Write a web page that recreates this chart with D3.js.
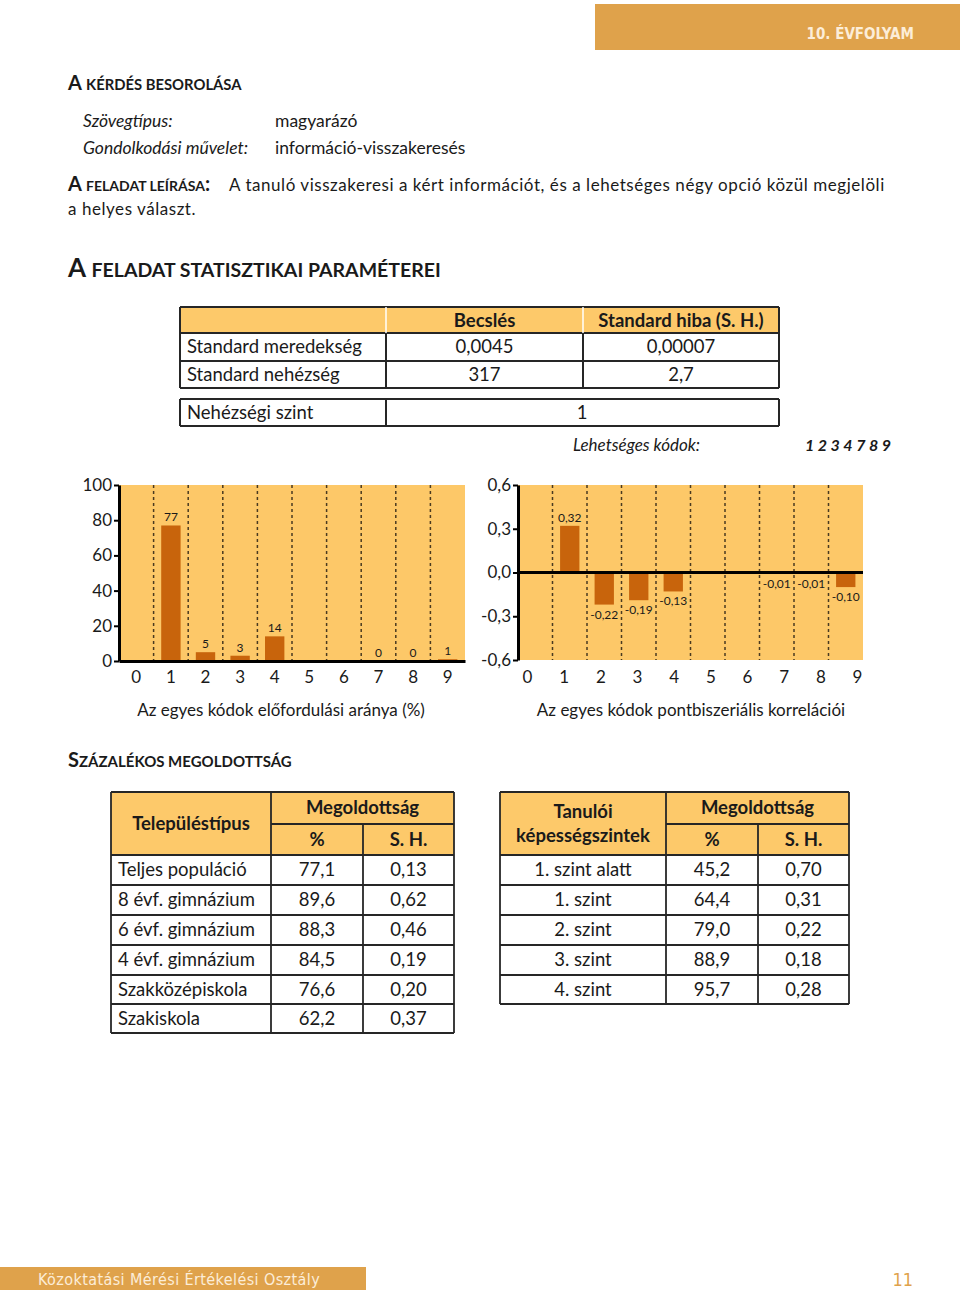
<!DOCTYPE html>
<html><head><meta charset="utf-8">
<script src="https://cdn.jsdelivr.net/npm/d3@7"></script>
<style>
html,body{margin:0;padding:0;background:#fff;}
svg{display:block;}
text{font-family:Lato,"Open Sans",sans-serif;fill:#1a1a1a;}
</style></head>
<body>
<svg id="page" width="960" height="1295"></svg>
<script>
// ---------- DATA ----------
const codes = [0,1,2,3,4,5,6,7,8,9];
const freqValues = [null,77,5,3,14,null,null,0,0,1];
const freqTicks = [0,20,40,60,80,100];
const corrValues = [null,0.32,-0.22,-0.19,-0.13,null,null,-0.01,-0.01,-0.10];
const corrTicks = [-0.6,-0.3,0,0.3,0.6];

const statHeader = ["", "Becslés", "Standard hiba (S. H.)"];
const statLabels = ["Standard meredekség", "Standard nehézség"];
const statEstimates = ["0,0045", "317"];
const statErrors = ["0,00007", "2,7"];
const levelLabel = "Nehézségi szint";
const levelValue = "1";
const possibleCodes = "1 2 3 4 7 8 9";

const settlementTypes = ["Teljes populáció","8 évf. gimnázium","6 évf. gimnázium","4 évf. gimnázium","Szakközépiskola","Szakiskola"];
const settlementPct = ["77,1","89,6","88,3","84,5","76,6","62,2"];
const settlementSE = ["0,13","0,62","0,46","0,19","0,20","0,37"];
const skillLevels = ["1. szint alatt","1. szint","2. szint","3. szint","4. szint"];
const skillPct = ["45,2","64,4","79,0","88,9","95,7"];
const skillSE = ["0,70","0,31","0,22","0,18","0,28"];

// ---------- STYLE ----------
const ORANGE_BAND = "#DFA24B";
const CHART_BG = "#FDC868";
const BAR = "#C8640C";
const HEAD_FILL = "#FDC96A";
const LINE = "#262626";

const svg = d3.select("#page");

function txt(x, y, s, opts = {}) {
  const t = svg.append("text").attr("x", x).attr("y", y).text(s)
    .style("font-size", (opts.size || 17) + "px");
  if (opts.anchor) t.attr("text-anchor", opts.anchor);
  if (opts.weight) t.style("font-weight", opts.weight);
  if (opts.italic) t.style("font-style", "italic");
  if (opts.fill) t.style("fill", opts.fill);
  if (opts.family) t.style("font-family", opts.family);
  if (opts.spacing) t.style("letter-spacing", opts.spacing + "px");
  return t;
}
function smallCaps(x, y, big, rest, bigSize, restSize, extra) {
  const t = svg.append("text").attr("x", x).attr("y", y).style("font-weight", "bold");
  t.append("tspan").text(big).style("font-size", bigSize + "px");
  t.append("tspan").text(rest).style("font-size", restSize + "px");
  if (extra) t.append("tspan").text(extra).style("font-size", bigSize + "px");
  return t;
}

// ---------- HEADER / FOOTER ----------
svg.append("rect").attr("x", 595).attr("y", 4).attr("width", 365).attr("height", 46).attr("fill", ORANGE_BAND);
txt(914, 39, "10. ÉVFOLYAM", {anchor: "end", size: 15, weight: "bold", fill: "#FCEDD8", family: "DejaVu Sans Condensed"});

svg.append("rect").attr("x", 0).attr("y", 1267).attr("width", 366).attr("height", 23).attr("fill", ORANGE_BAND);
txt(38, 1285, "Közoktatási Mérési Értékelési Osztály", {size: 16, fill: "#FCEDD8", family: "DejaVu Sans Condensed", spacing: 0.4});
txt(913, 1286, "11", {anchor: "end", size: 18, fill: ORANGE_BAND, family: "DejaVu Sans Condensed"});

// ---------- TEXT BLOCKS ----------
smallCaps(68, 90, "A ", "KÉRDÉS BESOROLÁSA", 20, 14.8);
txt(83, 127, "Szövegtípus:", {italic: true, size: 17.5});
txt(275, 127, "magyarázó", {size: 17.5});
txt(83, 154, "Gondolkodási művelet:", {italic: true, size: 17.5});
txt(275, 154, "információ-visszakeresés", {size: 17.5});

smallCaps(68, 191, "A ", "FELADAT LEÍRÁSA", 20, 14, ":");
txt(229, 191, "A tanuló visszakeresi a kért információt, és a lehetséges négy opció közül megjelöli", {size: 17, spacing: 0.55});
txt(68, 215, "a helyes választ.", {size: 17, spacing: 0.55});

smallCaps(68, 277, "A ", "FELADAT STATISZTIKAI PARAMÉTEREI", 26, 19.5);

// ---------- STAT TABLE ----------
function drawGrid(colEdges, rowEdges, headerRows, headFill, headerSepWhite) {
  const g = svg.append("g");
  if (headerRows > 0) {
    g.append("rect").attr("x", colEdges[0]).attr("y", rowEdges[0])
      .attr("width", colEdges[colEdges.length - 1] - colEdges[0])
      .attr("height", rowEdges[headerRows] - rowEdges[0]).attr("fill", headFill);
  }
  rowEdges.forEach(y => g.append("line").attr("x1", colEdges[0]).attr("x2", colEdges[colEdges.length - 1])
    .attr("y1", y).attr("y2", y).attr("stroke", LINE).attr("stroke-width", 2));
  colEdges.forEach((x, i) => {
    const inner = i > 0 && i < colEdges.length - 1;
    if (inner && headerSepWhite && headerRows > 0) {
      g.append("line").attr("x1", x).attr("x2", x).attr("y1", rowEdges[0]).attr("y2", rowEdges[headerRows])
        .attr("stroke", "#fff").attr("stroke-width", 1.5);
      g.append("line").attr("x1", x).attr("x2", x).attr("y1", rowEdges[headerRows]).attr("y2", rowEdges[rowEdges.length - 1])
        .attr("stroke", LINE).attr("stroke-width", 2);
    } else {
      g.append("line").attr("x1", x).attr("x2", x).attr("y1", rowEdges[0]).attr("y2", rowEdges[rowEdges.length - 1])
        .attr("stroke", LINE).attr("stroke-width", 2);
    }
  });
  return g;
}
const sCols = [180, 386, 583, 779];
const sRows = [307, 333, 361, 388];
drawGrid(sCols, sRows, 1, HEAD_FILL, true);
const mid = (a, b) => (a + b) / 2;
statHeader.forEach((h, i) => { if (h) txt(mid(sCols[i], sCols[i + 1]), 327, h, {anchor: "middle", weight: "bold", size: 18.5}); });
statLabels.forEach((l, r) => {
  const by = mid(sRows[r + 1], sRows[r + 2]) + 6;
  txt(187, by, l, {size: 18.5});
  txt(mid(sCols[1], sCols[2]), by, statEstimates[r], {anchor: "middle", size: 18.5});
  txt(mid(sCols[2], sCols[3]), by, statErrors[r], {anchor: "middle", size: 18.5});
});
drawGrid(sCols.filter((d, i) => i !== 2), [399, 426], 0, null, false);
txt(187, 419, levelLabel, {size: 18.5});
txt(582, 419, levelValue, {anchor: "middle", size: 18.5});

txt(573, 451, "Lehetséges kódok:", {italic: true, size: 17});
txt(891, 451, possibleCodes, {anchor: "end", italic: true, weight: "bold", size: 16});

// ---------- LEFT CHART (frequency) ----------
const fmtComma = d => (d < 0 ? "-" : "") + Math.abs(d).toFixed(2).replace(".", ",");
{
  const x = d3.scaleBand().domain(codes).range([119, 465]);
  const y = d3.scaleLinear().domain([0, 100]).range([661, 485]);
  const g = svg.append("g");
  g.append("rect").attr("x", x.range()[0]).attr("y", y(100)).attr("width", x.range()[1] - x.range()[0])
    .attr("height", y(0) - y(100)).attr("fill", CHART_BG);
  g.selectAll("line.sep").data(codes.slice(1)).join("line").attr("class", "sep")
    .attr("x1", d => x(d)).attr("x2", d => x(d)).attr("y1", y(100)).attr("y2", y(0))
    .attr("stroke", "#4a3a20").attr("stroke-width", 1.5).attr("stroke-dasharray", "3,3");
  const bw = x.bandwidth() * 0.56;
  const data = codes.map((c, i) => ({c, v: freqValues[i]})).filter(d => d.v !== null);
  g.selectAll("rect.bar").data(data).join("rect").attr("class", "bar")
    .attr("x", d => x(d.c) + (x.bandwidth() - bw) / 2).attr("width", bw)
    .attr("y", d => y(d.v)).attr("height", d => y(0) - y(d.v)).attr("fill", BAR);
  g.selectAll("text.val").data(data).join("text").attr("class", "val")
    .attr("x", d => x(d.c) + x.bandwidth() / 2).attr("y", d => y(d.v) - 4)
    .attr("text-anchor", "middle").style("font-size", "12px").text(d => d.v);
  const ya = g.append("g").attr("transform", `translate(${x.range()[0]},0)`)
    .call(d3.axisLeft(y).tickValues(freqTicks).tickSize(5).tickSizeOuter(0).tickPadding(2));
  ya.select(".domain").attr("stroke", "#000").attr("stroke-width", 3);
  ya.selectAll(".tick line").attr("stroke", "#000").attr("stroke-width", 2);
  ya.selectAll(".tick text").style("font-size", "17px").style("font-family", "Lato").attr("fill", "#1a1a1a");
  const xa = g.append("g").attr("transform", `translate(0,${y(0)})`)
    .call(d3.axisBottom(x).tickSize(0).tickSizeOuter(0).tickPadding(10));
  xa.select(".domain").attr("stroke", "#000").attr("stroke-width", 3);
  xa.selectAll(".tick text").style("font-size", "17px").style("font-family", "Lato").attr("fill", "#1a1a1a");
  txt(281, 716, "Az egyes kódok előfordulási aránya (%)", {anchor: "middle", size: 17});
}

// ---------- RIGHT CHART (correlation) ----------
{
  const x = d3.scaleBand().domain(codes).range([518, 863]);
  const xl = d3.scalePoint().domain(codes).range([527, 857]);
  const y = d3.scaleLinear().domain([-0.6, 0.6]).range([660, 485]);
  const g = svg.append("g");
  g.append("rect").attr("x", x.range()[0]).attr("y", y(0.6)).attr("width", x.range()[1] - x.range()[0])
    .attr("height", y(-0.6) - y(0.6)).attr("fill", CHART_BG);
  g.selectAll("line.sep").data(codes.slice(1)).join("line").attr("class", "sep")
    .attr("x1", d => x(d)).attr("x2", d => x(d)).attr("y1", y(0.6)).attr("y2", y(-0.6))
    .attr("stroke", "#4a3a20").attr("stroke-width", 1.5).attr("stroke-dasharray", "3,3");
  const bw = x.bandwidth() * 0.56;
  const data = codes.map((c, i) => ({c, v: corrValues[i]})).filter(d => d.v !== null);
  g.selectAll("rect.bar").data(data).join("rect").attr("class", "bar")
    .attr("x", d => x(d.c) + (x.bandwidth() - bw) / 2).attr("width", bw)
    .attr("y", d => y(Math.max(0, d.v))).attr("height", d => Math.abs(y(d.v) - y(0))).attr("fill", BAR);
  g.selectAll("text.val").data(data).join("text").attr("class", "val")
    .attr("x", d => x(d.c) + x.bandwidth() / 2)
    .attr("y", d => d.v >= 0 ? y(d.v) - 4 : y(d.v) + 14)
    .attr("text-anchor", "middle").style("font-size", "12px").text(d => fmtComma(d.v));
  g.append("line").attr("x1", x.range()[0]).attr("x2", x.range()[1]).attr("y1", y(0)).attr("y2", y(0))
    .attr("stroke", "#000").attr("stroke-width", 3);
  const ya = g.append("g").attr("transform", `translate(${x.range()[0]},0)`)
    .call(d3.axisLeft(y).tickValues(corrTicks).tickSize(5).tickSizeOuter(0).tickPadding(2)
      .tickFormat(d => (d < 0 ? "-" : "") + Math.abs(d).toFixed(1).replace(".", ",")));
  ya.select(".domain").attr("stroke", "#000").attr("stroke-width", 3);
  ya.selectAll(".tick line").attr("stroke", "#000").attr("stroke-width", 2);
  ya.selectAll(".tick text").style("font-size", "17px").style("font-family", "Lato").attr("fill", "#1a1a1a");
  const xa = g.append("g").attr("transform", `translate(0,${y(-0.6)})`)
    .call(d3.axisBottom(xl).tickSize(0).tickSizeOuter(0).tickPadding(11));
  xa.select(".domain").remove();
  xa.selectAll(".tick text").style("font-size", "17px").style("font-family", "Lato").attr("fill", "#1a1a1a");
  txt(691, 716, "Az egyes kódok pontbiszeriális korrelációi", {anchor: "middle", size: 17});
}

// ---------- PERCENT SECTION ----------
smallCaps(68, 767, "S", "ZÁZALÉKOS MEGOLDOTTSÁG", 20, 15);

function pctTable(cols, rows, labels, pct, se, headLeft, leftAlign) {
  const g = svg.append("g");
  const top = rows[0], hMid = rows[1], hBot = rows[2];
  g.append("rect").attr("x", cols[0]).attr("y", top).attr("width", cols[3] - cols[0]).attr("height", hBot - top).attr("fill", HEAD_FILL);
  const L = (x1, y1, x2, y2) => g.append("line").attr("x1", x1).attr("y1", y1).attr("x2", x2).attr("y2", y2)
    .attr("stroke", LINE).attr("stroke-width", 1.8);
  rows.forEach((y, i) => { if (i !== 1) L(cols[0], y, cols[3], y); });
  L(cols[1], hMid, cols[3], hMid);
  L(cols[0], top, cols[0], rows[rows.length - 1]);
  L(cols[1], top, cols[1], rows[rows.length - 1]);
  L(cols[2], hMid, cols[2], rows[rows.length - 1]);
  L(cols[3], top, cols[3], rows[rows.length - 1]);
  const c0 = mid(cols[0], cols[1]);
  if (headLeft.length === 1) {
    txt(c0, mid(top, hBot) + 6, headLeft[0], {anchor: "middle", weight: "bold", size: 18.5});
  } else {
    txt(c0, mid(top, hBot) - 6, headLeft[0], {anchor: "middle", weight: "bold", size: 18.5});
    txt(c0, mid(top, hBot) + 18, headLeft[1], {anchor: "middle", weight: "bold", size: 18.5});
  }
  txt(mid(cols[1], cols[3]), mid(top, hMid) + 6, "Megoldottság", {anchor: "middle", weight: "bold", size: 18.5});
  txt(mid(cols[1], cols[2]), mid(hMid, hBot) + 6, "%", {anchor: "middle", weight: "bold", size: 18.5});
  txt(mid(cols[2], cols[3]), mid(hMid, hBot) + 6, "S. H.", {anchor: "middle", weight: "bold", size: 18.5});
  labels.forEach((l, i) => {
    const by = mid(rows[i + 2], rows[i + 3]) + 6;
    if (leftAlign) txt(cols[0] + 7, by, l, {size: 18.5});
    else txt(c0, by, l, {anchor: "middle", size: 18.5});
    txt(mid(cols[1], cols[2]), by, pct[i], {anchor: "middle", size: 18.5});
    txt(mid(cols[2], cols[3]), by, se[i], {anchor: "middle", size: 18.5});
  });
}
pctTable([111, 271, 363, 454], [792, 824, 855, 885, 915, 945, 975, 1004, 1033],
  settlementTypes, settlementPct, settlementSE, ["Településtípus"], true);
pctTable([500, 666, 758, 849], [792, 824, 855, 885, 915, 945, 975, 1004],
  skillLevels, skillPct, skillSE, ["Tanulói", "képességszintek"], false);
</script>
</body></html>
